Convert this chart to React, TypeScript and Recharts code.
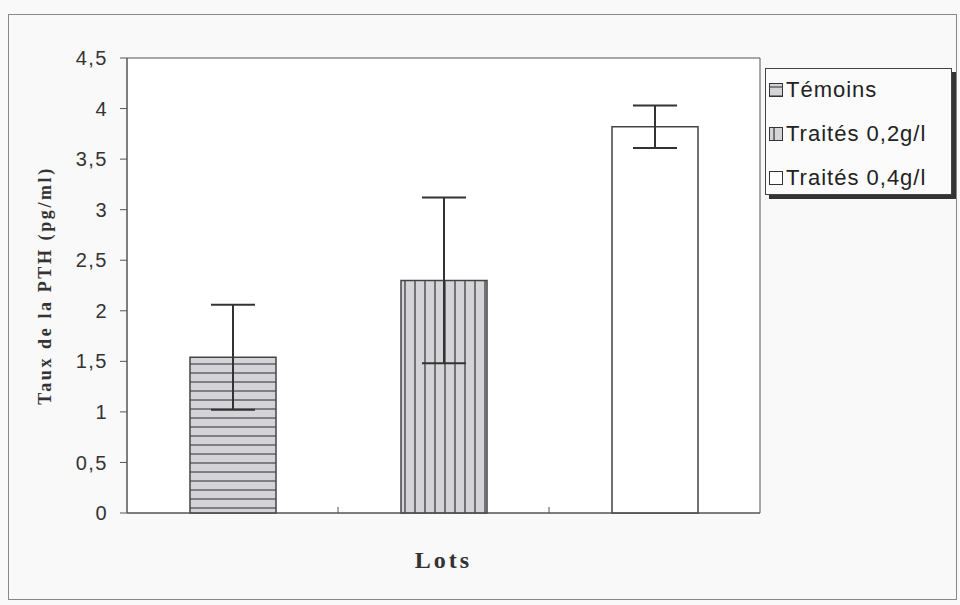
import { BarChart, Bar, XAxis, YAxis, Cell, ErrorBar, Legend, CartesianGrid, ReferenceArea } from 'recharts';

const LOTS = ['Témoins', 'Traités 0,2g/l', 'Traités 0,4g/l'];
const POS = [0.5, 1.5, 2.5];
const PTH = [1.54, 2.3, 3.82];
const SD = [0.52, 0.82, 0.21];
const Y_TICKS = [0, 0.5, 1, 1.5, 2, 2.5, 3, 3.5, 4, 4.5];
const FILLS = ['url(#hLines)', 'url(#vLines)', '#ffffff'];

const data = LOTS.map((name, i) => ({ name, x: POS[i], pth: PTH[i], sd: SD[i] }));

const fmt = (v: number) => String(v).replace('.', ',');
const SANS = 'Arial, "Liberation Sans", sans-serif';
const SERIF = '"Liberation Serif", "Times New Roman", serif';

function LegendBox() {
  return (
    <div
      style={{
        width: 187,
        height: 127,
        border: '1px solid #444',
        boxShadow: '4px 4px 0 #333',
        background: '#fbfbfb',
        fontFamily: SANS,
        fontSize: 22,
        letterSpacing: 1,
        color: '#222',
        padding: '0 0 0 3px',
        boxSizing: 'border-box',
        textAlign: 'left',
      }}
    >
      {LOTS.map((name, i) => (
        <div key={name} style={{ display: 'flex', alignItems: 'center', height: 44, marginTop: i === 0 ? -1 : 0, whiteSpace: 'nowrap' }}>
          <svg width={14} height={14} style={{ marginRight: 3, flexShrink: 0 }}>
            <rect x={0.5} y={0.5} width={13} height={13} fill={FILLS[i]} stroke="#333" />
          </svg>
          {name}
        </div>
      ))}
    </div>
  );
}

export default function App() {
  return (
    <div style={{ position: 'absolute', left: 0, top: 0, width: 960, height: 605, background: '#f9f9f9' }}>
      <div style={{ position: 'absolute', left: 8, top: 14, width: 949, height: 586, border: '1px solid #888', boxSizing: 'border-box' }} />
      <BarChart width={960} height={605} data={data} margin={{ top: 58, right: 200, bottom: 92, left: 0 }}>
        <defs>
          <pattern id="hLines" width={8} height={9} patternUnits="userSpaceOnUse">
            <rect width={8} height={9} fill="#d4d4d8" />
            <line x1={0} y1={4} x2={8} y2={4} stroke="#6a6a6a" strokeWidth={1.6} />
          </pattern>
          <pattern id="vLines" width={10} height={8} patternUnits="userSpaceOnUse">
            <rect width={10} height={8} fill="#d4d4d8" />
            <line x1={5} y1={0} x2={5} y2={8} stroke="#5a5a5a" strokeWidth={1.6} />
          </pattern>
        </defs>
        <CartesianGrid horizontal={false} vertical={false} fill="#ffffff" />
        <XAxis
          type="number"
          dataKey="x"
          domain={[0, 3]}
          ticks={[1, 2]}
          tickFormatter={() => ''}
          tickSize={6}
          mirror
          stroke="#555"
          height={30}
          label={{
            value: 'Lots',
            position: 'bottom',
            offset: 38,
            style: { fontFamily: SERIF, fontWeight: 'bold', fontSize: 24, letterSpacing: 3, fill: '#333' },
          }}
        />
        <YAxis
          domain={[0, 4.5]}
          ticks={Y_TICKS}
          tickFormatter={fmt}
          interval={0}
          width={127}
          tickSize={7}
          tickMargin={12}
          stroke="#555"
          tick={{ fill: '#333', fontSize: 20, letterSpacing: 1.5, fontFamily: SANS }}
          label={{
            value: 'Taux de la PTH (pg/ml)',
            angle: -90,
            position: 'insideLeft',
            offset: 45,
            style: { textAnchor: 'middle', fontFamily: SERIF, fontWeight: 'bold', fontSize: 18, letterSpacing: 2.6, fill: '#333' },
          }}
        />
        <ReferenceArea x1={0} x2={3} y1={0} y2={4.5} fill="none" stroke="#555" />
        <Bar dataKey="pth" barSize={86} stroke="#444" strokeWidth={1.5} isAnimationActive={false}>
          {data.map((_, i) => (
            <Cell key={i} fill={FILLS[i]} />
          ))}
          <ErrorBar dataKey="sd" width={22} stroke="#333" strokeWidth={2} />
        </Bar>
        <Legend
          layout="horizontal"
          align="center"
          verticalAlign="middle"
          content={() => <LegendBox />}
          wrapperStyle={{ left: 765, top: 68, width: 190, height: 130 }}
        />
      </BarChart>
    </div>
  );
}
